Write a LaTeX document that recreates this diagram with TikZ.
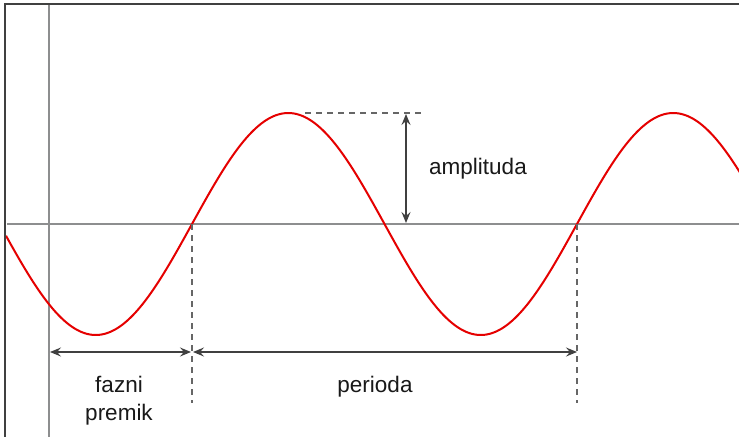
\documentclass[tikz,border=0pt]{standalone}
\usepackage{fontspec}
\setmainfont{Liberation Sans}
\usetikzlibrary{arrows.meta}
\begin{document}
\begin{tikzpicture}[x=1pt,y=-1pt,
  axis/.style={draw=black!50!cyan!6!gray, line width=2pt},
  wave/.style={draw=red!90!black, line width=2pt},
  dimline/.style={draw=black!75, line width=1.5pt, {Stealth[length=11pt,width=9pt,inset=4pt]}-{Stealth[length=11pt,width=9pt,inset=4pt]}},
  guide/.style={draw=black!60, line width=1.3pt, dash pattern=on 6pt off 5pt},
  frame/.style={draw=black!75, line width=1.5pt},
  lbl/.style={font=\fontsize{22.5}{28}\selectfont, text=black!90, inner sep=0pt}
]
\useasboundingbox (0,0) rectangle (739,437);
\fill[white] (0,0) rectangle (739,437);
% frame (top and left)
\coordinate (TL) at (5,4);
\coordinate (TR) at (739,4);
\coordinate (BL) at (5,437);
\draw[frame] (TR) -- (TL) -- (BL);
% axes
\coordinate (xa) at (7,224);
\coordinate (xb) at (739,224);
\coordinate (ya) at (49,5);
\coordinate (yb) at (49,437);
\draw[axis] (xa) -- (xb);
\draw[axis] (ya) -- (yb);
% wave
\begin{scope}
\clip (6,5) rectangle (739,437);
\draw[wave] plot[domain=6:740, samples=300, smooth] (\x, {224 - 111*sin(0.935065*(\x-192))});
\end{scope}
% guides
\coordinate (z1) at (192,224);
\coordinate (z1b) at (192,403);
\coordinate (z3) at (577,224);
\coordinate (z3b) at (577,403);
\coordinate (pk) at (305,113);
\coordinate (pkr) at (424,113);
\draw[guide] (z1) -- (z1b);
\draw[guide] (z3) -- (z3b);
\draw[guide] (pk) -- (pkr);
% dimension arrows
\coordinate (a1) at (406,114);
\coordinate (a2) at (406,223);
\draw[dimline] (a1) -- (a2);
\coordinate (f1) at (50,352);
\coordinate (f2) at (191,352);
\coordinate (p1) at (193,352);
\coordinate (p2) at (577,352);
\draw[dimline] (f1) -- (f2);
\draw[dimline] (p1) -- (p2);
% labels
\node[lbl, anchor=base] (amp) at (478,174) {amplituda};
\node[lbl, anchor=base] (per) at (375,392) {perioda};
\node[lbl, anchor=base, align=center] (faz) at (119,420) {fazni\\premik};
\end{tikzpicture}
\end{document}
